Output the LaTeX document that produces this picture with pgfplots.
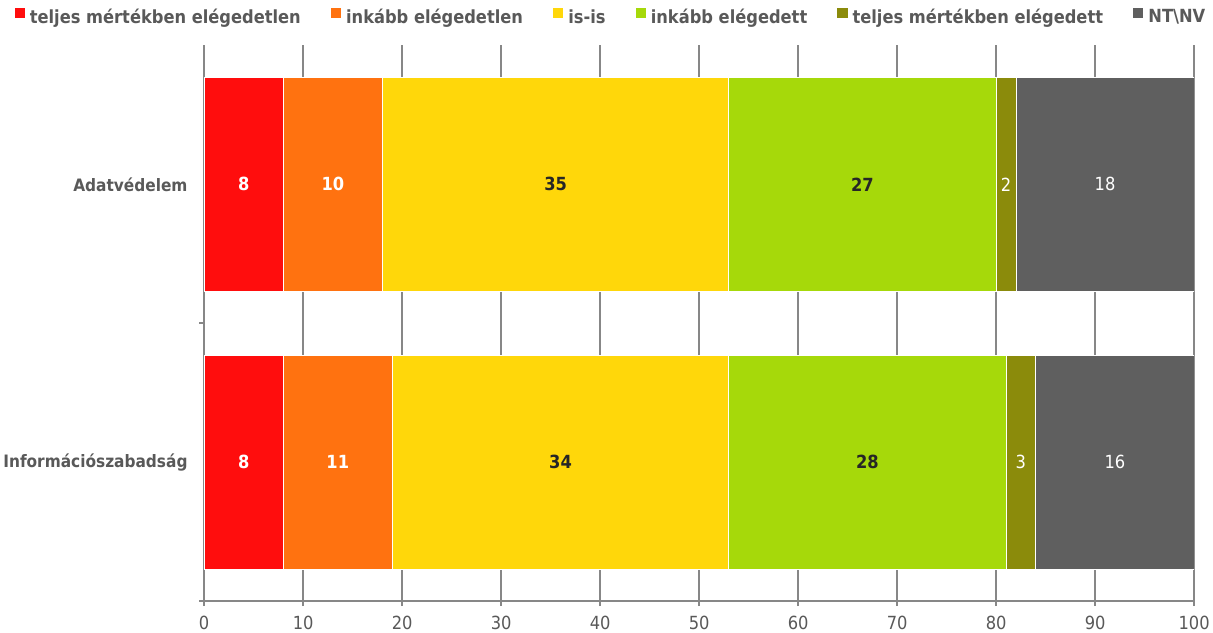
\documentclass[border=0pt]{standalone}
\usepackage{pgfplots}
\pgfplotsset{compat=1.18}
\usepackage{fontspec}
\setmainfont{DejaVu Sans Condensed}
\definecolor{c1}{HTML}{FF0D0D}
\definecolor{c2}{HTML}{FF7210}
\definecolor{c3}{HTML}{FFD70A}
\definecolor{c4}{HTML}{A6D90A}
\definecolor{c5}{HTML}{8B8B0B}
\definecolor{c6}{HTML}{5F5F5F}
\definecolor{axisgray}{HTML}{878787}
\definecolor{textgray}{HTML}{595959}
\begin{document}
\begin{tikzpicture}
\pgfplotsset{
  base/.style={
    scale only axis, width=985pt, height=553pt,
    xmin=0, xmax=100, ymin=-0.5, ymax=1.5, y dir=reverse,
  }
}
\begin{axis}[
  base,
  xbar stacked, bar width=213pt,
  axis x line=bottom, axis y line=left,
  axis line style={draw=axisgray, line width=2.5pt, -},
  xtick={0,10,...,100}, xmajorgrids,
  grid style={draw=axisgray, line width=2pt},
  tick align=outside, major tick length=5pt,
  x tick style={draw=axisgray, line width=2pt},
  ytick={0,1}, yticklabels={Adatvédelem, Információszabadság},
  y tick style={draw=none},
  extra y ticks={0.5,1.5}, extra y tick labels={},
  extra y tick style={y tick style={draw=axisgray, line width=2pt}, ymajorgrids=false},
  /pgf/number format/assume math mode=true,
  xticklabel style={font=\fontsize{18}{21}\selectfont, text=textgray, yshift=-6pt},
  yticklabel style={font=\fontsize{17}{20}\selectfont\bfseries, text=textgray, xshift=-8pt},
  legend style={at={(0.41,1)}, anchor=south, yshift=12pt, draw=none, fill=none,
    legend columns=6, font=\fontsize{18}{21}\selectfont\bfseries, text=textgray,
    /tikz/every even column/.append style={column sep=30pt},
    /tikz/every odd column/.append style={column sep=5pt},
    legend cell align=left, inner xsep=0pt, inner ysep=8pt,
    nodes={inner sep=0pt}},
  legend image code/.code={\path[#1, draw=none] (0pt,-1pt) rectangle (10pt,9pt);},
  every axis plot/.append style={draw=white, line width=0.8pt},
]
\addplot[fill=c1] coordinates {(8,0) (8,1)};
\addplot[fill=c2] coordinates {(10,0) (11,1)};
\addplot[fill=c3] coordinates {(35,0) (34,1)};
\addplot[fill=c4] coordinates {(27,0) (28,1)};
\addplot[fill=c5] coordinates {(2,0) (3,1)};
\addplot[fill=c6] coordinates {(18,0) (16,1)};
\legend{teljes mértékben elégedetlen, inkább elégedetlen, is-is, inkább elégedett, teljes mértékben elégedett, NT\textbackslash NV}
\end{axis}
\begin{axis}[base, hide axis,
  point meta=explicit symbolic]
\addplot[draw=none, mark=none, nodes near coords,
  nodes near coords style={anchor=center, text=white, font=\fontsize{18}{21}\selectfont\bfseries}]
  coordinates {(4,0)[8] (13,0)[10] (4,1)[8] (13.5,1)[11]};
\addplot[draw=none, mark=none, nodes near coords,
  nodes near coords style={anchor=center, text=black!85, font=\fontsize{18}{21}\selectfont\bfseries}]
  coordinates {(35.5,0)[35] (66.5,0)[27] (36,1)[34] (67,1)[28]};
\addplot[draw=none, mark=none, nodes near coords,
  nodes near coords style={anchor=center, text=white, font=\fontsize{18}{21}\selectfont}]
  coordinates {(81,0)[2] (91,0)[18] (82.5,1)[3] (92,1)[16]};
\end{axis}
\end{tikzpicture}
\end{document}
